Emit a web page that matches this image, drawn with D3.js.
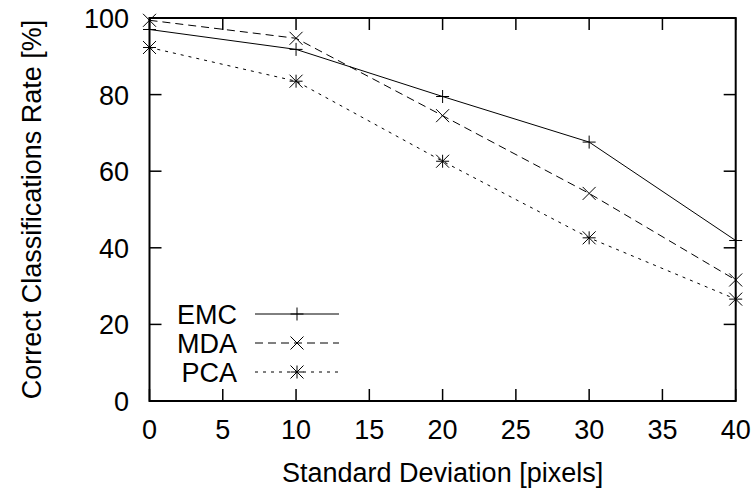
<!DOCTYPE html>
<html><head><meta charset="utf-8">
<script src="https://cdn.jsdelivr.net/npm/d3@7"></script>
<style>body{margin:0;background:#fff}svg{display:block}text{font-family:"Liberation Sans",Arial,sans-serif;fill:#000}</style>
</head><body>
<svg id="c" width="756" height="497"></svg>
<script>
const xValues = [0, 10, 20, 30, 40];
const emcValues = [97.0, 91.8, 79.5, 67.6, 41.9];
const mdaValues = [99.4, 94.7, 74.5, 54.2, 31.6];
const pcaValues = [92.3, 83.5, 62.6, 42.6, 26.6];
const seriesNames = ["EMC", "MDA", "PCA"];
const xTicks = [0, 5, 10, 15, 20, 25, 30, 35, 40];
const yTicks = [0, 20, 40, 60, 80, 100];

const FS = 27;
const svg = d3.select("#c");
const L = 149.5, R = 735.7, T = 18, B = 401;
const x = d3.scaleLinear().domain([0, 40]).range([L, R]);
const y = d3.scaleLinear().domain([0, 100]).range([B, T]);
const tickLen = 12;

const g = svg.append("g");
xTicks.forEach(t => {
  g.append("line").attr("x1", x(t)).attr("x2", x(t)).attr("y1", B).attr("y2", B - tickLen).attr("stroke", "#000").attr("stroke-width", 1.5);
  g.append("line").attr("x1", x(t)).attr("x2", x(t)).attr("y1", T).attr("y2", T + tickLen).attr("stroke", "#000").attr("stroke-width", 1.5);
  g.append("text").attr("x", x(t)).attr("y", 439).attr("text-anchor", "middle").attr("font-size", FS).text(t);
});
yTicks.forEach(t => {
  g.append("line").attr("x1", L).attr("x2", L + tickLen).attr("y1", y(t)).attr("y2", y(t)).attr("stroke", "#000").attr("stroke-width", 1.5);
  g.append("line").attr("x1", R).attr("x2", R - tickLen).attr("y1", y(t)).attr("y2", y(t)).attr("stroke", "#000").attr("stroke-width", 1.5);
  g.append("text").attr("x", 129).attr("y", y(t) + 10).attr("text-anchor", "end").attr("font-size", FS).text(t);
});
g.append("rect").attr("x", L).attr("y", T).attr("width", R - L).attr("height", B - T).attr("fill", "none").attr("stroke", "#000").attr("stroke-width", 2);

svg.append("text").attr("x", (L + R) / 2).attr("y", 482).attr("text-anchor", "middle").attr("font-size", FS).text("Standard Deviation [pixels]");
svg.append("text").attr("transform", `translate(41,${(T + B) / 2}) rotate(-90)`).attr("text-anchor", "middle").attr("font-size", FS).text("Correct Classifications Rate [%]");

const dashes = [null, "8,5", "3,5"];
const data = [emcValues, mdaValues, pcaValues];
const ms = 6.5;
function marker(sel, type, cx, cy) {
  const p = d3.path();
  if (type === 0 || type === 2) { p.moveTo(cx - ms, cy); p.lineTo(cx + ms, cy); p.moveTo(cx, cy - ms); p.lineTo(cx, cy + ms); }
  if (type === 1 || type === 2) { p.moveTo(cx - ms, cy - ms); p.lineTo(cx + ms, cy + ms); p.moveTo(cx - ms, cy + ms); p.lineTo(cx + ms, cy - ms); }
  sel.append("path").attr("d", p.toString()).attr("stroke", "#000").attr("stroke-width", 1).attr("fill", "none");
}
const line = d3.line().x((d, i) => x(xValues[i])).y(d => y(d));
data.forEach((vals, k) => {
  svg.append("path").datum(vals).attr("d", line).attr("fill", "none").attr("stroke", "#000").attr("stroke-width", 1)
    .attr("stroke-dasharray", dashes[k]);
  vals.forEach((v, i) => marker(svg, k, x(xValues[i]), y(v)));
});

const legY = [314, 343, 372];
seriesNames.forEach((n, k) => {
  svg.append("text").attr("x", 237).attr("y", legY[k] + 10).attr("text-anchor", "end").attr("font-size", FS).text(n);
  svg.append("line").attr("x1", 255).attr("x2", 339).attr("y1", legY[k]).attr("y2", legY[k]).attr("stroke", "#000").attr("stroke-width", 1).attr("stroke-dasharray", dashes[k]);
  marker(svg, k, 297, legY[k]);
});
</script>
</body></html>
